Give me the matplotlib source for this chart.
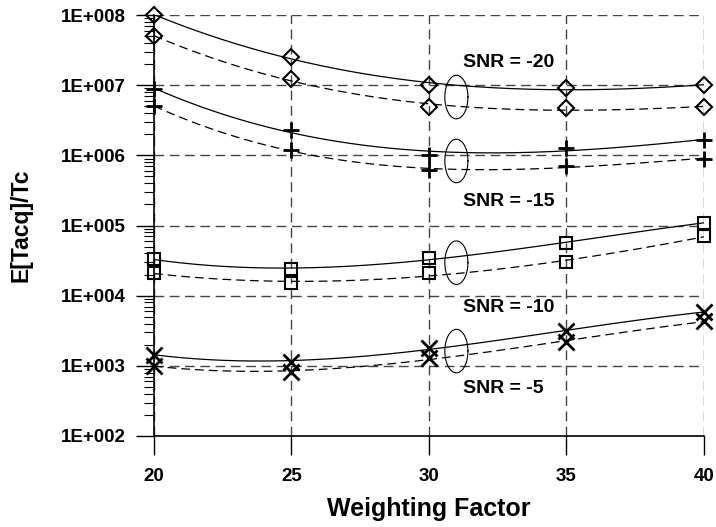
import numpy as np
import matplotlib.pyplot as plt
from matplotlib.ticker import LogLocator, FixedLocator, FuncFormatter, NullFormatter

plt.rcParams['font.family'] = ['Liberation Sans', 'DejaVu Sans']
plt.rcParams['font.weight'] = 'bold'

weights = [20, 25, 30, 35, 40]

# solid (upper) and dashed (lower) series per SNR
snr20_solid = [1.0e8, 2.5e7, 1.0e7, 9.1e6, 1.0e7]
snr20_dash = [5.0e7, 1.23e7, 4.9e6, 4.7e6, 4.9e6]
snr15_solid = [8.9e6, 2.3e6, 1.0e6, 1.27e6, 1.65e6]
snr15_dash = [5.0e6, 1.2e6, 6.1e5, 7.0e5, 9.0e5]
snr10_solid = [3.3e4, 2.4e4, 3.4e4, 5.6e4, 1.1e5]
snr10_dash = [2.1e4, 1.5e4, 2.1e4, 3.0e4, 7.0e4]
snr5_solid = [1.45e3, 1.15e3, 1.8e3, 3.1e3, 5.9e3]
snr5_dash = [1.0e3, 8.2e2, 1.3e3, 2.2e3, 4.3e3]

labels = ['SNR = -20', 'SNR = -15', 'SNR = -10', 'SNR = -5']
label_y = [2.1e7, 2.2e5, 6.8e3, 4.7e2]
ellipse_y = [6.83, 5.92, 4.47, 3.21]  # log10 centres

groups = [
    (snr20_solid, snr20_dash, 'D'),
    (snr15_solid, snr15_dash, '+'),
    (snr10_solid, snr10_dash, 's'),
    (snr5_solid, snr5_dash, 'x'),
]

fig = plt.figure(figsize=(7.16, 5.27), dpi=100)
ax = fig.add_axes([0.215, 0.1727, 0.768, 0.7988])
ax.set_yscale('log')
ax.set_xlim(20, 40)
ax.set_ylim(1e2, 1e8)

xs = np.array(weights)
xf = np.linspace(20, 40, 200)

for solid, dash, mk in groups:
    for vals, ls in ((solid, '-'), (dash, (0, (7, 4)))):
        coef = np.polyfit(xs, np.log10(vals), 3)
        ax.plot(xf, 10 ** np.polyval(coef, xf), color='black', lw=0.9, ls=ls, zorder=3)
        if mk in ('+', 'x'):
            ax.plot(xs, vals, ls='none', marker=mk, ms=11, mew=2, color='black',
                    clip_on=False, zorder=4)
        else:
            ax.plot(xs, vals, ls='none', marker=mk, ms=8 if mk == 'D' else 9,
                    mfc='none', mec='black', mew=1.5, clip_on=False, zorder=4)

t = np.linspace(0, 2 * np.pi, 100)
for yc in ellipse_y:
    ax.plot(31 + 0.42 * np.cos(t), 10 ** (yc + 0.31 * np.sin(t)), color='black', lw=0.8, zorder=3)

for txt, yl in zip(labels, label_y):
    ax.text(31.25, yl, txt, fontsize=14, fontweight='bold', ha='left', va='center')

ax.grid(True, which='major', color='#444444', ls=(0, (7, 4)), lw=1)
ax.spines['top'].set_visible(False)
ax.spines['right'].set_visible(False)
ax.spines['left'].set_linewidth(1.2)
ax.spines['bottom'].set_linewidth(1.2)

ax.xaxis.set_major_locator(FixedLocator(weights))
ax.yaxis.set_major_locator(LogLocator(base=10, numticks=10))
ax.yaxis.set_minor_locator(LogLocator(base=10, subs=np.arange(2, 10), numticks=20))
ax.yaxis.set_minor_formatter(NullFormatter())
ax.yaxis.set_major_formatter(FuncFormatter(lambda v, p: '1E+%03d' % int(round(np.log10(v)))))

ax.tick_params(axis='y', which='major', direction='out', length=13, width=1, labelsize=13.5, pad=7)
ax.tick_params(axis='y', which='minor', direction='out', length=7, width=0.8)
ax.tick_params(axis='x', which='major', direction='out', length=14, width=1, labelsize=13.5, pad=9)
for lab in ax.get_xticklabels() + ax.get_yticklabels():
    lab.set_fontweight('bold')

ax.set_xlabel('Weighting Factor', fontsize=18, fontweight='bold')
ax.xaxis.set_label_coords(0.5, -0.145)
ax.set_ylabel('E[Tacq]/Tc', fontsize=16.5, fontweight='bold')
ax.yaxis.set_label_coords(-0.22, 0.5)

fig.savefig('out.png', dpi=100)
